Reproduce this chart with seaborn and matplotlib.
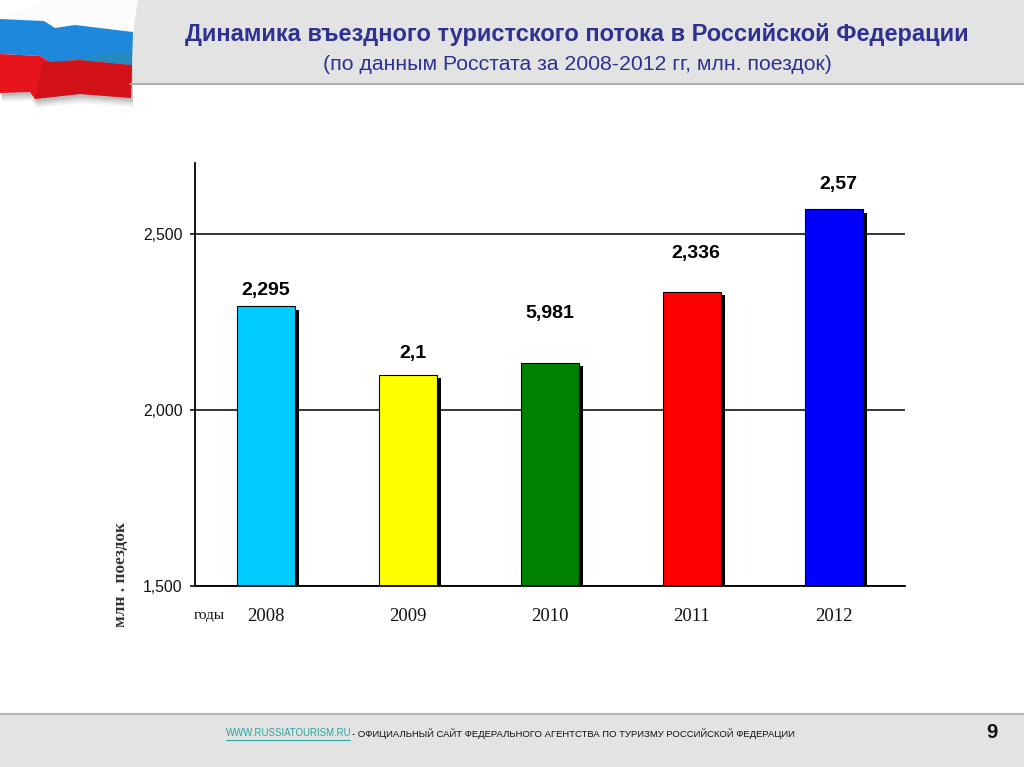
import matplotlib
matplotlib.use("Agg")
import matplotlib.pyplot as plt
import matplotlib.patheffects as pe
from matplotlib.patches import Polygon, Rectangle
import pandas as pd
import seaborn as sns

years = ["2008", "2009", "2010", "2011", "2012"]
values = [2295, 2100, 2134, 2336, 2570]
value_labels = ["2,295", "2,1", "5,981", "2,336", "2,57"]
bar_colors = ["#00CCFF", "#FFFF00", "#008000", "#FF0000", "#0000FF"]
y_ticks = [1500, 2000, 2500]
y_tick_labels = ["1,500", "2,000", "2,500"]
title_main = "Динамика въездного туристского потока в Российской Федерации"
title_sub = "(по данным Росстата за 2008-2012 гг, млн. поездок)"
footer_link = "WWW.RUSSIATOURISM.RU"
footer_rest = "- ОФИЦИАЛЬНЫЙ САЙТ ФЕДЕРАЛЬНОГО АГЕНТСТВА ПО ТУРИЗМУ РОССИЙСКОЙ ФЕДЕРАЦИИ"

W, H = 1024, 767
sns.set_theme(style="white")
plt.rcParams["font.family"] = ["Liberation Sans", "DejaVu Sans"]

fig = plt.figure(figsize=(W / 100, H / 100), dpi=100, facecolor="white")

# page decoration in pixel coordinates
bg = fig.add_axes([0, 0, 1, 1], zorder=0)
bg.set_xlim(0, W)
bg.set_ylim(H, 0)
bg.axis("off")
GREY = "#E3E3E3"
bg.add_patch(Rectangle((130, 0), W - 130, 83, fc=GREY, ec="none"))
bg.plot([130, W], [83.5, 83.5], color="#A6A6A6", lw=1.3)
bg.add_patch(Rectangle((0, 714), W, 53, fc=GREY, ec="none"))
bg.plot([0, W], [714, 714], color="#B5B5B5", lw=1.5)

blue_top = [(0, 19), (44, 21), (55, 28), (75, 25), (100, 28), (133, 32)]
mid = [(132, 65), (80, 60), (50, 62), (40, 56), (0, 54)]
red_bot = [(0, 93), (30, 92), (35, 99), (80, 94), (131, 98)]
for off, a in [(9, .07), (7, .09), (5, .12), (3, .16)]:
    bg.add_patch(Polygon([(0, 60)] + [(x + 2, y + off) for x, y in red_bot] + [(132, 60)],
                         fc="#555555", ec="none", alpha=a))
bg.add_patch(Polygon([(48, 0), (138, 0), (135, 20), (133, 33)] + blue_top[::-1], fc="#FBFBFB", ec="none"))
bg.add_patch(Polygon(blue_top + mid, fc="#1E88DC", ec="none"))
bg.add_patch(Polygon([(0, 54), (40, 56), (50, 62), (80, 60), (132, 65)] + red_bot[::-1], fc="#E8141C", ec="none"))
bg.add_patch(Polygon([(42, 62), (80, 60), (132, 65), (131, 98), (80, 94), (35, 99)], fc="#B80F14", ec="none", alpha=.45))
bg.add_patch(Polygon([(60, 60), (132, 50), (132, 65), (80, 60)], fc="#2A8C9C", ec="none", alpha=.45))

# chart
ax = fig.add_axes([195 / W, 1 - 586 / H, 710 / W, (586 - 163) / H], zorder=1)
ax.patch.set_alpha(0)
df = pd.DataFrame({"year": years, "value": values})
sns.barplot(data=df, x="year", y="value", hue="year", palette=bar_colors, legend=False, saturation=1,
            width=0.41, edgecolor="black", linewidth=0.8, zorder=3, ax=ax)
for p in ax.patches:
    p.set_path_effects([pe.SimplePatchShadow(offset=(2.7, -2.4), shadow_rgbFace="black", alpha=1.0), pe.Normal()])

ax.set_xlim(-0.5, 4.5)
ax.set_ylim(1500, 2702)
ax.set_yticks(y_ticks)
ax.set_yticklabels(y_tick_labels, fontsize=11.3, color="#111111")
ax.set_xticks(range(len(years)))
ax.set_xticklabels(years, fontsize=13.4, family="Liberation Serif", color="#111111")
ax.tick_params(axis="x", length=0, pad=15.5)
ax.tick_params(axis="y", left=True, length=3.5, width=1.1, color="black", pad=5.5)
ax.set_xlabel("")
ax.set_ylabel("")
for y in y_ticks:
    ax.axhline(y, color="black", lw=1.1, zorder=1)
for s in ["top", "right"]:
    ax.spines[s].set_visible(False)
for s in ["left", "bottom"]:
    ax.spines[s].set_color("black")
    ax.spines[s].set_linewidth(1.3)
    ax.spines[s].set_zorder(4)

label_dx = [0, 5, 0, 4, 4]
label_dy = [19, 24, 52, 41, 28]
for i, (v, t) in enumerate(zip(values, value_labels)):
    ax.annotate(t, (i, v), xytext=(label_dx[i] * .72, (label_dy[i] - 3) * .72), textcoords="offset points",
                ha="center", va="center", fontsize=14, fontweight="bold", color="black")

def px_text(x, y, s, **kw):
    kw.setdefault("va", "center")
    return bg.text(x, y, s, **kw)

NAVY = "#2E3192"
px_text(576.5, 35, title_main, ha="center", fontsize=17, fontweight="bold", color=NAVY)
px_text(577.5, 65, title_sub, ha="center", fontsize=15.3, color=NAVY)
px_text(194, 616, "годы", fontsize=11, family="Liberation Serif", color="#111111")
px_text(120.5, 575, "млн . поездок", rotation=90, ha="center", fontsize=12.4,
        family="Liberation Serif", fontweight="bold", color="#333333")

LINK = "#2AA5A0"
px_text(226, 733.5, footer_link, fontsize=6.9, color=LINK)
bg.plot([226, 350], [739.5, 739.5], color=LINK, lw=0.8)
px_text(352, 733.5, footer_rest, fontsize=6.83, color="#111111")
px_text(992, 733, "9", ha="center", fontsize=14.5, fontweight="bold", color="#111111")

fig.savefig("out.png", dpi=100)
